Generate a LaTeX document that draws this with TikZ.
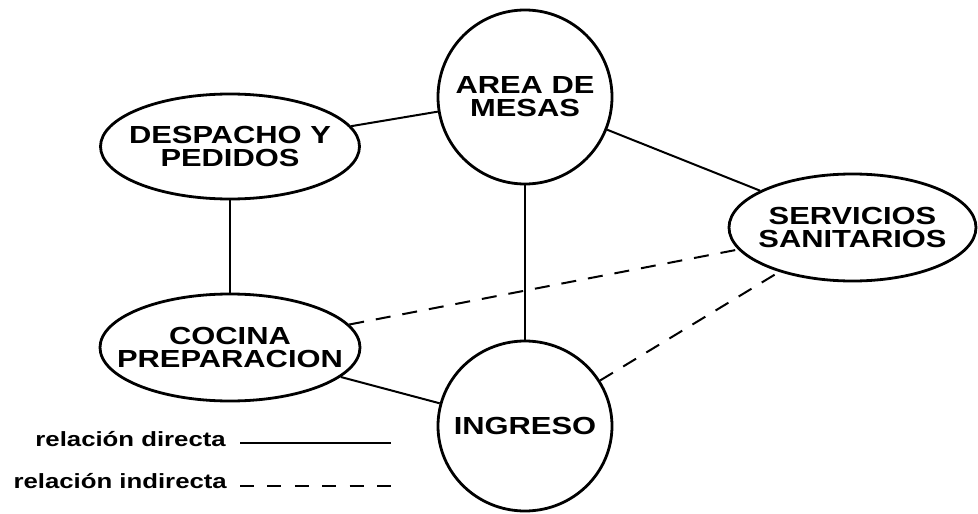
\documentclass[tikz,border=0pt]{standalone}
\usepackage{fontspec}
\setmainfont{Liberation Sans}[FakeStretch=1.25]
\usetikzlibrary{shapes.geometric}
\begin{document}
\begin{tikzpicture}[x=1pt,y=-1pt,
  place/.style={ellipse, draw, line width=2.8pt, inner sep=0pt},
  lbl/.style={font=\fontsize{24.7}{23}\selectfont\bfseries, align=center, inner sep=0pt},
  direct/.style={line width=2pt},
  indirect/.style={line width=2pt, dash pattern=on 15pt off 12pt},
  legtext/.style={font=\fontsize{20.6}{24}\selectfont\bfseries, inner sep=0pt}]
\useasboundingbox (0,0) rectangle (978,514);
\node[place, minimum width=174, minimum height=174, label={[lbl]center:AREA DE\\MESAS}] (area) at (525,97) {};
\node[place, minimum width=259, minimum height=105, label={[lbl]center:DESPACHO Y\\PEDIDOS}] (desp) at (230,146.5) {};
\node[place, minimum width=247, minimum height=107, label={[lbl]center:SERVICIOS\\SANITARIOS}] (serv) at (852.5,227.5) {};
\node[place, minimum width=260, minimum height=107, label={[lbl]center:COCINA\\PREPARACION}] (coc) at (230,347.5) {};
\node[place, minimum width=174, minimum height=170, label={[lbl]center:INGRESO}] (ingr) at (525,426) {};
\draw[direct] (desp) -- (area);
\draw[direct] (area) -- (serv);
\draw[direct] (area) -- (ingr);
\draw[direct] (desp) -- (coc);
\draw[direct] (coc) -- (ingr);
\draw[indirect] (coc) -- (serv);
\draw[indirect] (ingr) -- (serv);
% legend
\node[legtext, anchor=base east] (ld) at (226,446.5) {relación directa};
\node[legtext, anchor=base east] (li) at (227,488) {relación indirecta};
\coordinate (ld1) at (240,443);
\coordinate (ld2) at (391,443);
\coordinate (li1) at (240,486);
\coordinate (li2) at (391,486);
\draw[direct] (ld1) -- (ld2);
\draw[line width=2pt, dash pattern=on 14pt off 13.4pt] (li1) -- (li2);
\end{tikzpicture}
\end{document}
